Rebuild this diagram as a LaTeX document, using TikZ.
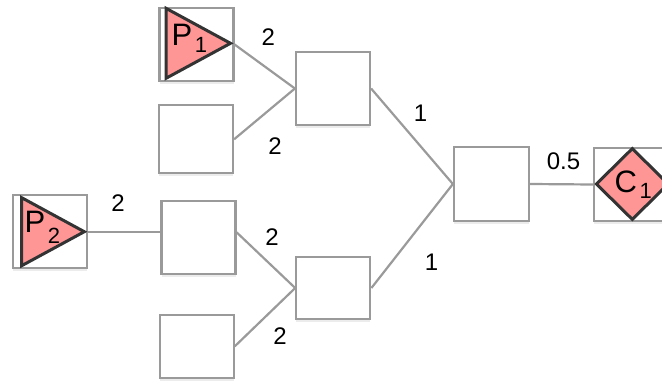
\documentclass[tikz,border=0pt]{standalone}
\usepackage{fontspec}
\setmainfont{Liberation Sans}
\usepackage{tikz}
\usetikzlibrary{shapes.geometric,shadows}
\definecolor{boxgray}{HTML}{9A9A9A}
\definecolor{markred}{HTML}{FF9696}
\definecolor{markline}{HTML}{333333}
\newcommand\pnname[3]{#1\kern2.5pt\raisebox{-#3pt}{\fontsize{22}{22}\selectfont #2}}
\tikzset{
  pn box/.style={
    rectangle,
    minimum width=74pt,
    minimum height=73pt,
    inner sep=0pt,
    line width=2.2pt,
    draw=boxgray,
    fill=white,
    drop shadow={shadow xshift=0pt, shadow yshift=-3pt, opacity=0.15},
  },
  pn mark/.style={
    line width=3pt,
    draw=markline,
    fill=markred,
    line join=miter,
  },
  pn line/.style={line width=2.2pt, draw=boxgray},
  pn weight/.style={font=\fontsize{24}{24}\selectfont, inner sep=0pt},
  pn name/.style={font=\fontsize{31}{31}\selectfont, inner sep=0pt, anchor=base west},
}

\begin{document}
\begin{tikzpicture}[x=1pt, y=-1pt]
  \useasboundingbox (0,0) rectangle (662,383);
  \node[pn box] (p1) at (196.5,44.5) {};
  \node[pn box, minimum height=68pt] (a1) at (196,139.3) {};
  \node[pn box] (m1) at (333,88.5) {};
  \node[pn box] (p2) at (50,231.7) {};
  \node[pn box] (a2) at (198.5,237.3) {};
  \node[pn box, minimum height=63pt] (a3) at (196.7,346.3) {};
  \node[pn box, minimum height=62.5pt] (m2) at (333.3,288) {};
  \node[pn box, minimum width=75pt, minimum height=74pt] (m3) at (491.5,184) {};
  \node[pn box] (c1) at (631.3,184.5) {};
  % connectors
  \draw[pn line] (p1.east) -- (m1.west);
  \draw[pn line] (a1.east) -- (m1.west);
  \draw[pn line] (p2.east) -- (p2.east -| a2.west);
  \draw[pn line] ([yshift=5pt]a2.east) -- (m2.west);
  \draw[pn line] (a3.east) -- (m2.west);
  \draw[pn line] (m1.east) -- (m3.west);
  \draw[pn line] (m2.east) -- (m3.west);
  \draw[pn line] (m3.east) -- (c1.west);
  % marks
  \draw[pn mark] (166,8.3) -- (230.5,43.3) -- (166,78.3) -- cycle;
  \draw[pn mark] (21.7,197.7) -- (84.3,231.7) -- (21.7,265.7) -- cycle;
  \node[pn mark, diamond, minimum width=73pt, minimum height=72pt, inner sep=0pt] (c1 mark) at (632.3,184) {};
  \node[pn name] (p1 name) at (171.5,45.7) {\pnname{P}{1}{7}};
  \node[pn name] (p2 name) at (24.5,232.3) {\pnname{P}{2}{11}};
  \node[pn name] (c1 name) at (614.5,192.7) {\pnname{C}{1}{6}};
  % weights
  \node[pn weight] (w1) at (268.3,37) {2};
  \node[pn weight] (w2) at (275,146) {2};
  \node[pn weight] (w3) at (118,203.5) {2};
  \node[pn weight] (w4) at (272,237.5) {2};
  \node[pn weight] (w5) at (280,336) {2};
  \node[pn weight] (w6) at (420.5,113.5) {1};
  \node[pn weight] (w7) at (431.5,262.3) {1};
  \node[pn weight] (w8) at (563.5,161) {0.5};
\end{tikzpicture}
\end{document}
